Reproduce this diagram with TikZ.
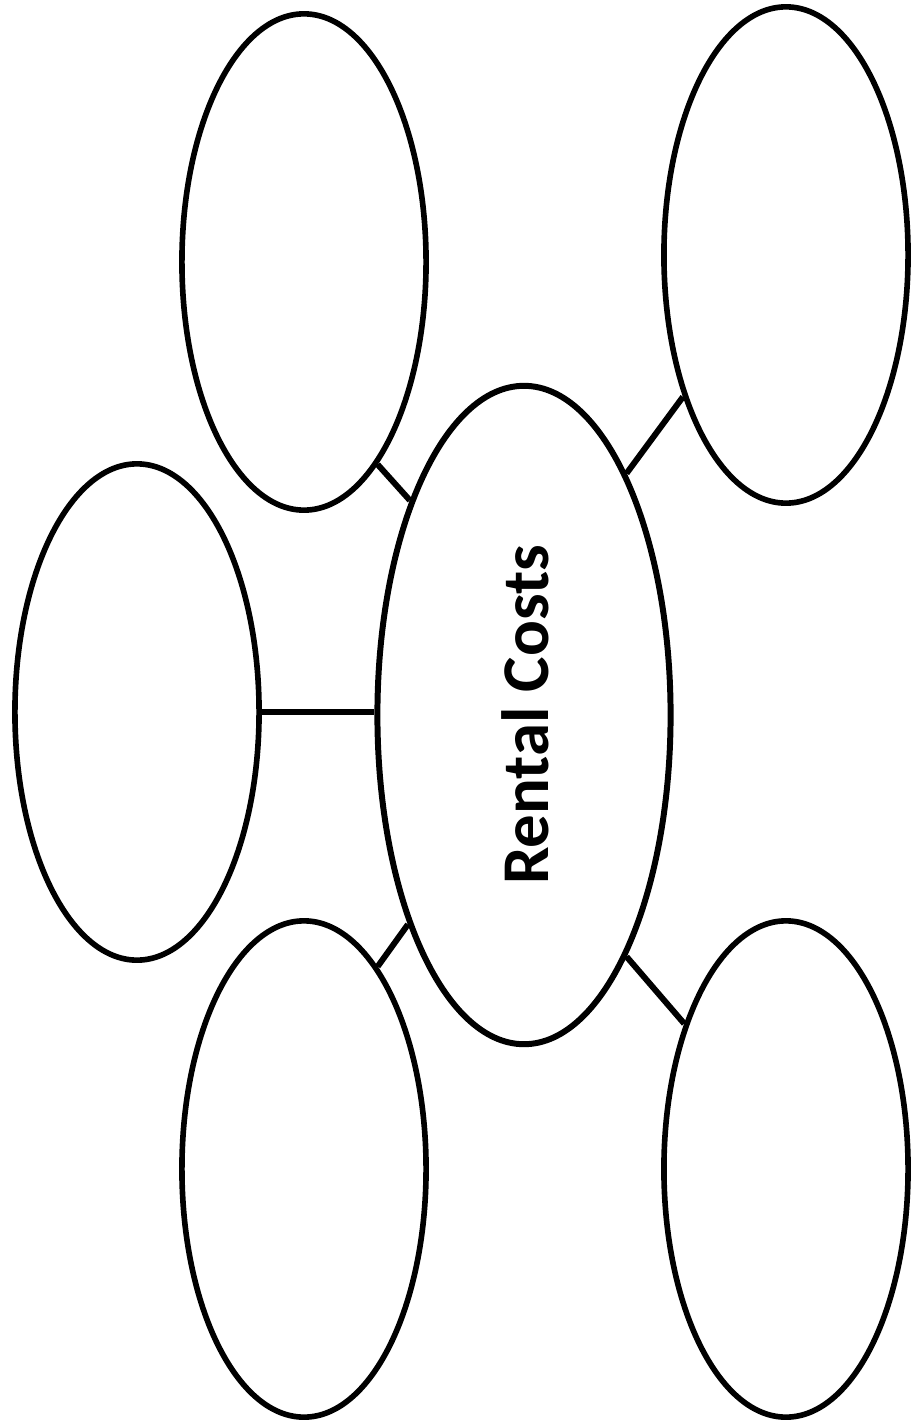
\documentclass[tikz,border=0pt]{standalone}
\usepackage{fontspec}
\setmainfont{Carlito}
\usetikzlibrary{shapes.geometric}

\begin{document}
\begin{tikzpicture}[x=0.01cm, y=-0.01cm,
    bubble/.style={ellipse, draw, line width=1.6pt, inner sep=0pt, minimum width=2.44cm, minimum height=4.96cm},
    link/.style={line width=1.7pt}]
    \useasboundingbox (0,0) rectangle (911,1427);
    % centre topic
    \node[ellipse, draw, line width=1.7pt, inner sep=0pt, minimum width=2.93cm, minimum height=6.58cm] (rc) at (524,715) {};
    \node[rotate=90, font=\fontsize{19}{23}\selectfont\bfseries] (title) at (525,715) {Rental Costs};
    % outer bubbles
    \node[bubble] (tl) at (304,262) {};
    \node[bubble] (tr) at (786,255) {};
    \node[bubble] (ml) at (137,712) {};
    \node[bubble] (bl) at (304,1169) {};
    \node[bubble] (br) at (786,1169) {};
    \draw[link] (tl.-70.5) -- (rc.118.8);
    \draw[link] (tr.234.3) -- (rc.67.6);
    \draw[link] (ml.0) -- (ml.0 -| rc.west);
    \draw[link] (bl.70.5) -- (rc.241.2);
    \draw[link] (br.125.7) -- (rc.293.3);
\end{tikzpicture}
\end{document}
